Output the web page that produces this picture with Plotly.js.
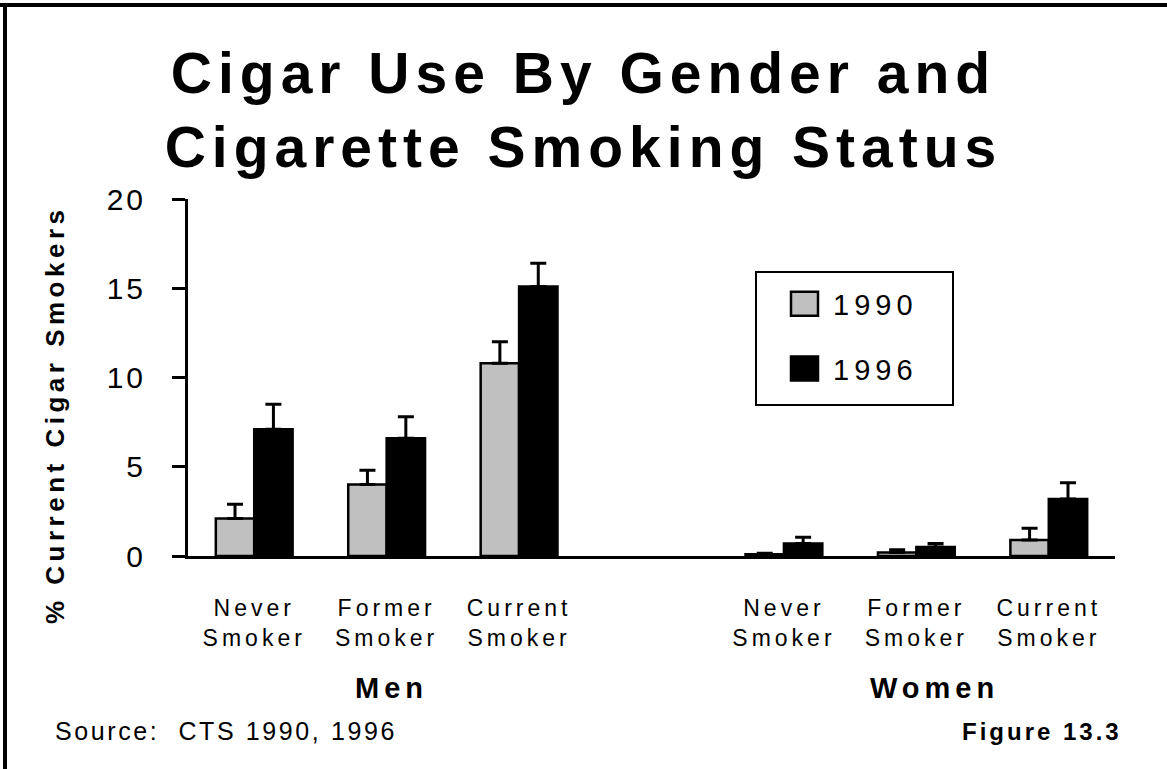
<!DOCTYPE html>
<html>
<head>
<meta charset="utf-8">
<script src="https://cdn.plot.ly/plotly-3.0.1.min.js"></script>
<style>
  html, body { margin: 0; padding: 0; background: #fff; }
  #chart { width: 1167px; height: 769px; }
  .gtitle { letter-spacing: 6px; }
  .ytick text { letter-spacing: 3px; }
  .xtick text { letter-spacing: 4px; }
  .legendtext { letter-spacing: 5px; }
  .legend .legendpoints path { transform: translate(46.5px, 0px) scale(2.25, 2.0); vector-effect: non-scaling-stroke; }
</style>
</head>
<body>
<div id="chart"></div>
<script>
// ---- data ----
const categories = ["Never<br>Smoker", "Former<br>Smoker", "Current<br>Smoker"];
const genders = ["Men", "Women"];
const years = ["1990", "1996"];
// order: Men Never, Men Former, Men Current, Women Never, Women Former, Women Current
const pct1990 = [2.1, 4.0, 10.8, 0.1, 0.2, 0.9];
const err1990 = [0.8, 0.8, 1.2, 0.05, 0.15, 0.65];
const pct1996 = [7.1, 6.6, 15.1, 0.7, 0.5, 3.2];
const err1996 = [1.4, 1.2, 1.3, 0.35, 0.2, 0.9];
const yTicks = [0, 5, 10, 15, 20];

// category slots: one empty slot between the two gender groups
const xPos = [];
const xText = [];
genders.forEach((g, gi) => {
  categories.forEach((c, ci) => {
    xPos.push(gi * (categories.length + 1) + ci);
    xText.push(c);
  });
});

const FONT = '"Liberation Sans", Arial, Helvetica, sans-serif';

const trace1990 = {
  type: 'bar', name: years[0], x: xPos, y: pct1990, legendgroup: 'a',
  marker: { color: '#c0c0c0', line: { color: '#000', width: 2.5 } },
  error_y: { type: 'data', array: err1990, arrayminus: err1990.map(() => 0), symmetric: false,
             color: '#000', thickness: 3, width: 8 },
  hoverinfo: 'skip'
};
const trace1996 = {
  type: 'bar', name: years[1], x: xPos, y: pct1996, legendgroup: 'b',
  marker: { color: '#000000', line: { color: '#000', width: 2.5 } },
  error_y: { type: 'data', array: err1996, arrayminus: err1996.map(() => 0), symmetric: false,
             color: '#000', thickness: 3, width: 8 },
  hoverinfo: 'skip'
};

// pixel geometry of the plot area
const W = 1167, H = 769;
const L = 188, R = 1115, T = 199, B = 556;
const px = x => (x - L) / (R - L);
const py = y => (B - y) / (B - T);

const layout = {
  width: W, height: H,
  margin: { l: L, r: W - R, t: T, b: H - B, pad: 0 },
  paper_bgcolor: '#fff', plot_bgcolor: '#fff',
  font: { family: FONT, color: '#000' },
  title: {
    text: 'Cigar Use By Gender and<br>Cigarette Smoking Status',
    font: { family: FONT, size: 57, color: '#000', weight: 'bold' },
    x: 0.5, xanchor: 'center', xref: 'container',
    y: 0.879, yanchor: 'top', yref: 'container'
  },
  barmode: 'group', bargap: 0.42, bargroupgap: 0,
  xaxis: {
    range: [-0.5, 6.5], tickvals: xPos, ticktext: xText,
    showgrid: false, zeroline: false, showline: true, linecolor: '#000', linewidth: 3,
    ticks: '', ticklabelstandoff: 29,
    tickfont: { family: FONT, size: 23, color: '#000' }, fixedrange: true
  },
  yaxis: {
    range: [0, 20], tickvals: yTicks, showgrid: false, zeroline: false,
    showline: true, linecolor: '#000', linewidth: 3,
    ticks: 'outside', ticklen: 13, tickwidth: 3, tickcolor: '#000',
    ticklabelstandoff: 20,
    tickfont: { family: FONT, size: 30, color: '#000' }, fixedrange: true
  },
  showlegend: true,
  legend: {
    x: px(758), xanchor: 'left', y: py(278.5), yanchor: 'top',
    bgcolor: 'rgba(0,0,0,0)', borderwidth: 0,
    font: { family: FONT, size: 29, color: '#000' },
    tracegroupgap: 24, itemwidth: 65, traceorder: 'grouped'
  },
  shapes: [
    // legend frame
    { type: 'rect', xref: 'paper', yref: 'paper', x0: px(756), x1: px(953), y0: py(405), y1: py(272),
      line: { color: '#000', width: 2 }, fillcolor: 'rgba(0,0,0,0)', layer: 'below' },
    // outer frame (top and left edges)
    { type: 'line', xref: 'paper', yref: 'paper', x0: px(0), x1: px(W), y0: py(5), y1: py(5),
      line: { color: '#000', width: 4 } },
    { type: 'line', xref: 'paper', yref: 'paper', x0: px(5), x1: px(5), y0: py(3), y1: py(H),
      line: { color: '#000', width: 4 } }
  ],
  annotations: [
    { text: '<b><span style="letter-spacing:4.5px">% Current Cigar Smokers</span></b>',
      xref: 'paper', yref: 'paper', x: px(55), y: py(415), xanchor: 'center', yanchor: 'middle',
      textangle: -90, showarrow: false, font: { family: FONT, size: 26, color: '#000' } },
    { text: '<b><span style="letter-spacing:5px">' + genders[0] + '</span></b>',
      xref: 'x', yref: 'paper', x: 1.04, y: py(688), xanchor: 'center', yanchor: 'middle',
      showarrow: false, font: { family: FONT, size: 29, color: '#000' } },
    { text: '<b><span style="letter-spacing:5px">' + genders[1] + '</span></b>',
      xref: 'x', yref: 'paper', x: 5.14, y: py(688), xanchor: 'center', yanchor: 'middle',
      showarrow: false, font: { family: FONT, size: 29, color: '#000' } },
    { text: '<span style="letter-spacing:2.6px">Source:  CTS 1990, 1996</span>',
      xref: 'paper', yref: 'paper', x: px(53), y: py(731), xanchor: 'left', yanchor: 'middle',
      showarrow: false, font: { family: FONT, size: 25, color: '#000' } },
    { text: '<b><span style="letter-spacing:3px">Figure 13.3</span></b>',
      xref: 'paper', yref: 'paper', x: px(1124), y: py(731), xanchor: 'right', yanchor: 'middle',
      showarrow: false, font: { family: FONT, size: 24, color: '#000' } }
  ]
};

Plotly.newPlot('chart', [trace1990, trace1996], layout, { displayModeBar: false, staticPlot: true });
</script>
</body>
</html>
